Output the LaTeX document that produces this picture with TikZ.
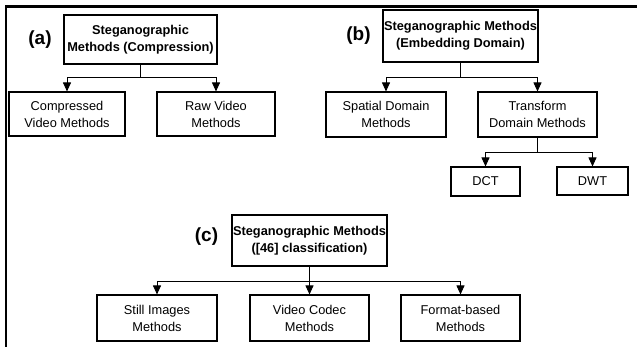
\documentclass[tikz,border=0pt]{standalone}
\usepackage{fontspec}
\setmainfont{Liberation Sans}
\usetikzlibrary{arrows.meta}
\begin{document}
\begin{tikzpicture}[x=1pt,y=-1pt,
  box/.style={draw=black,line width=1.1pt,inner sep=0pt,align=center,
    font=\fontsize{12.8}{17}\selectfont},
  rootbox/.style={box,font=\fontsize{12.8}{17}\selectfont\bfseries},
  tag/.style={inner sep=0pt,font=\fontsize{19}{21}\selectfont\bfseries},
  arr/.style={line width=0.9pt,-{Triangle[width=8pt,length=9pt]}},
  frame/.style={line width=2.6pt}]
\useasboundingbox (0,0) rectangle (637,347);
% outer frame (top and left edges)
\draw[frame] (5,6.5) -- (637,6.5);
\draw[frame] (6,5.5) -- (6,347);

% (a) classification by compression
\node[tag] (la) at (40,40) {(a)};
\node[rootbox,minimum width=153pt,minimum height=49pt] (ar) at (140.5,39.5)
  {Steganographic\\Methods (Compression)};
\node[box,minimum width=116pt,minimum height=44pt] (ac) at (67,114)
  {Compressed\\Video Methods};
\node[box,minimum width=118pt,minimum height=44pt] (aw) at (216,114)
  {Raw Video\\Methods};
\draw[arr] (ar.south) -- ++(0,13) -| (ac.north);
\draw[arr] (ar.south) -- ++(0,13) -| (aw.north);

% (b) classification by embedding domain
\node[tag] (lb) at (358.5,36) {(b)};
\node[rootbox,minimum width=155pt,minimum height=52pt] (br) at (460.5,36)
  {Steganographic Methods\\(Embedding Domain)};
\node[box,minimum width=120pt,minimum height=45pt] (bs) at (386,114.5)
  {Spatial Domain\\Methods};
\node[box,minimum width=119pt,minimum height=45pt] (bt) at (537.5,114.5)
  {Transform\\Domain Methods};
\node[box,minimum width=69pt,minimum height=29pt] (bd) at (485.5,181.5) {DCT};
\node[box,minimum width=71pt,minimum height=28pt] (bw) at (592.5,181) {DWT};
\draw[arr] (br.south) -- ++(0,15) -| (bs.north);
\draw[arr] (br.south) -- ++(0,15) -| (bt.north);
\draw[arr] (bt.south) -- ++(0,15) -| (bd.north);
\draw[arr] (bt.south) -- ++(0,15) -| (bw.north);

% (c) classification from [46]
\node[tag] (lc) at (206.5,237) {(c)};
\node[rootbox,minimum width=155pt,minimum height=51pt] (cr) at (309.5,240.5)
  {Steganographic Methods\\([46] classification)};
\node[box,minimum width=120pt,minimum height=46pt] (cs) at (157,318)
  {Still Images\\Methods};
\node[box,minimum width=119pt,minimum height=46pt] (cv) at (309.5,318)
  {Video Codec\\Methods};
\node[box,minimum width=119pt,minimum height=46pt] (cf) at (460.5,318)
  {Format-based\\Methods};
\draw[arr] (cr.south) -- ++(0,15) -| (cs.north);
\draw[arr] (cr.south) -- (cv.north);
\draw[arr] (cr.south) -- ++(0,15) -| (cf.north);
\end{tikzpicture}
\end{document}
